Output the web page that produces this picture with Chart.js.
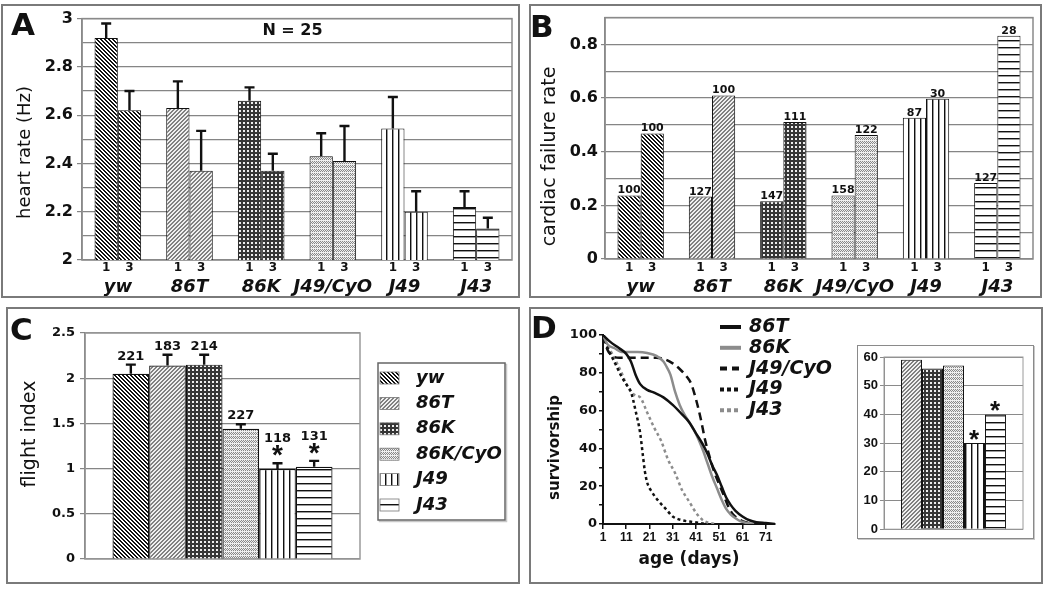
<!DOCTYPE html>
<html><head><meta charset="utf-8">
<script src="https://cdn.jsdelivr.net/npm/chart.js@4.4.1/dist/chart.umd.min.js"></script>
<style>
body{margin:0;background:#fff;width:1050px;height:591px;position:relative;overflow:hidden;font-family:'DejaVu Sans',sans-serif}
.frame{position:absolute;box-sizing:border-box;border:2px solid #7a7a7a}
.inset{position:absolute;box-sizing:border-box;border:1.5px solid #8a8a8a;box-shadow:1px 1px 0 #c8c8c8}
canvas{position:absolute}
.plabel{position:absolute;font:bold 31px 'DejaVu Sans';line-height:1;color:#111}
</style></head>
<body>
<div class="frame" style="left:1px;top:4px;width:519px;height:294px"></div>
<div class="frame" style="left:529px;top:4px;width:513px;height:294px"></div>
<div class="frame" style="left:6px;top:307px;width:514px;height:277px"></div>
<div class="frame" style="left:529px;top:307px;width:514px;height:277px"></div>
<div class="inset" style="left:857px;top:345px;width:177px;height:194px"></div>
<canvas id="cA" width="518" height="293" style="left:2px;top:5px"></canvas>
<canvas id="cB" width="512" height="293" style="left:530px;top:5px"></canvas>
<canvas id="cC" width="513" height="275" style="left:7px;top:308px"></canvas>
<canvas id="cD" width="320" height="275" style="left:530px;top:308px"></canvas>
<canvas id="cE" width="177" height="194" style="left:857px;top:345px"></canvas>
<div class="plabel" style="left:11px;top:9px">A</div>
<div class="plabel" style="left:530px;top:11px">B</div>
<div class="plabel" style="left:10px;top:314px">C</div>
<div class="plabel" style="left:531px;top:312px">D</div>
<script>
// ---------- data ----------
const genotypes = ['yw', '86T', '86K', 'J49/CyO', 'J49', 'J43'];
const timepoints = ['1', '3'];
// A: heart rate (Hz)
const hrDay1 = [2.92, 2.63, 2.66, 2.43, 2.545, 2.22];
const hrDay1Err = [0.06, 0.11, 0.055, 0.095, 0.13, 0.065];
const hrDay3 = [2.62, 2.37, 2.37, 2.41, 2.20, 2.13];
const hrDay3Err = [0.08, 0.165, 0.07, 0.145, 0.085, 0.045];
const hrTickLabels = ['2', '2.2', '2.4', '2.6', '2.8', '3'];
// B: cardiac failure rate
const cfDay1 = [0.237, 0.233, 0.215, 0.237, 0.527, 0.283];
const cfDay3 = [0.468, 0.61, 0.511, 0.462, 0.597, 0.832];
const cfNDay1 = [100, 127, 147, 158, 87, 127];
const cfNDay3 = [100, 100, 111, 122, 30, 28];
const cfTickLabels = ['0', '0.2', '0.4', '0.6', '0.8'];
// C: flight index
const flightGenotypes = ['yw', '86T', '86K', '86K/CyO', 'J49', 'J43'];
const flight = [2.05, 2.14, 2.15, 1.44, 0.995, 1.02];
const flightErr = [0.10, 0.12, 0.11, 0.05, 0.065, 0.065];
const flightN = [221, 183, 214, 227, 118, 131];
const flightSig = [false, false, false, false, true, true];
const flightTickLabels = ['0', '0.5', '1', '1.5', '2', '2.5'];
// D: survivorship
const survLabels = ['86T', '86K', 'J49/CyO', 'J49', 'J43'];
const surv86T_days = [1, 4, 8, 11, 13, 15, 17, 20, 23, 27, 31, 35, 38, 41, 44, 46, 48, 50, 52, 54, 56, 58, 61, 64, 67, 71, 75];
const surv86T_pct  = [100, 96.5, 93, 90, 86, 79, 74, 71, 69.5, 67, 63, 58, 54, 48, 42, 37, 31, 26, 20, 14, 10, 7, 4, 2, 1, 0.5, 0];
const surv86K_days = [1, 3, 6, 9, 12, 16, 20, 24, 27, 28, 30, 32, 34, 36, 38, 40, 42, 44, 46, 48, 50, 52, 54, 56, 58, 60, 63, 66];
const surv86K_pct  = [100, 95, 93, 91, 91, 91, 90.5, 89, 86, 84, 79, 70, 63, 58, 54, 50, 45, 39, 32, 25, 19, 13, 8, 5, 3, 1.5, 0.5, 0];
const survJ49CyO_days = [1, 3, 5, 8, 12, 16, 20, 24, 28, 31, 34, 37, 39, 41, 43, 45, 47, 49, 51, 53, 55, 57, 59, 61, 64, 67];
const survJ49CyO_pct  = [100, 92, 89, 88, 88, 88, 88, 88, 87, 85, 82, 78, 74, 66, 56, 44, 35, 27, 21, 15, 9, 5, 3, 1.5, 0.5, 0];
const survJ49_days = [1, 3, 5, 7, 9, 11, 13, 15, 17, 18, 19, 20, 22, 25, 28, 31, 35, 40, 45];
const survJ49_pct  = [100, 93, 88, 83, 78, 74, 70, 60, 48, 38, 28, 22, 17, 12, 8, 4, 2, 1, 0];
const survJ43_days = [1, 3, 5, 7, 9, 11, 13, 15, 17, 20, 23, 26, 29, 32, 35, 38, 41, 44, 47, 50];
const survJ43_pct  = [100, 94, 90, 85, 80, 74, 70, 68, 67, 59, 51, 44, 34, 27, 18, 12, 6, 2, 0.5, 0];
const dayTicks = [1, 11, 21, 31, 41, 51, 61, 71];
const survTickLabels = ['0', '20', '40', '60', '80', '100'];
// D inset: mean lifespan
const lifespanGenotypes = ['86T', '86K', 'J49/CyO', 'J49', 'J43'];
const lifespan = [59, 56, 57, 30, 40];
const lifespanSig = [false, false, false, true, true];

// ---------- patterns ----------
function makePattern(w, h, bg, fg, pixels) {
  const c = document.createElement('canvas'); c.width = w; c.height = h;
  const x = c.getContext('2d'); x.fillStyle = bg; x.fillRect(0, 0, w, h);
  pixels.forEach(p => { x.fillStyle = p[4] || fg; x.fillRect(p[0], p[1], p[2] || 1, p[3] || 1); });
  return x.createPattern(c, 'repeat');
}
const pat = {
  yw: makePattern(4, 4, '#ffffff', '#111111', [[0,0,2,1],[1,1,2,1],[2,2,2,1],[3,3,1,1],[0,3,1,1]]),
  t86: makePattern(4, 4, '#f0f0f0', '#808080', [[3,0],[0,0],[2,1],[3,1],[1,2],[2,2],[0,3],[1,3]]),
  k86: makePattern(4, 4, '#363636', '#eeeeee', [[1,1,2,2]]),
  cyo: makePattern(4, 4, '#eeeeee', '#888888', [[0,0],[1,1],[2,0],[3,1],[0,2],[2,2]]),
  j49: makePattern(6, 2, '#ffffff', '#111111', [[0,0,1,2],[1,0,1,2,'#9a9a9a']]),
  j43: makePattern(2, 7, '#ffffff', '#111111', [[0,0,2,1],[0,1,2,1,'#9a9a9a']])
};
const genoPatterns = [pat.yw, pat.t86, pat.k86, pat.cyo, pat.j49, pat.j43];
const insetPatterns = [pat.t86, pat.k86, pat.cyo, pat.j49, pat.j43];

// ---------- plugins ----------
const areaBorder = { id: 'areaBorder', beforeDatasetsDraw(chart, a, o) {
  if (!o || !o.color) return;
  const { ctx, chartArea: { left, top, width, height } } = chart;
  ctx.save(); ctx.strokeStyle = o.color; ctx.lineWidth = o.width || 1;
  ctx.strokeRect(left, top, width, height); ctx.restore();
} };
const errorBars = { id: 'errorBars', afterDatasetsDraw(chart, a, o) {
  const { ctx } = chart; const ys = chart.scales.y;
  chart.data.datasets.forEach((ds, di) => {
    if (!ds.errors) return;
    chart.getDatasetMeta(di).data.forEach((bar, i) => {
      const yt = ys.getPixelForValue(ds.data[i] + ds.errors[i]);
      ctx.save(); ctx.strokeStyle = '#111'; ctx.lineWidth = o.width || 2;
      ctx.beginPath(); ctx.moveTo(bar.x, bar.y); ctx.lineTo(bar.x, yt);
      ctx.moveTo(bar.x - o.cap / 2, yt); ctx.lineTo(bar.x + o.cap / 2, yt); ctx.stroke(); ctx.restore();
    });
  });
} };
const barLabels = { id: 'barLabels', afterDatasetsDraw(chart, a, o) {
  const { ctx } = chart; const ys = chart.scales.y;
  chart.data.datasets.forEach((ds, di) => {
    if (!ds.counts && !ds.stars) return;
    chart.getDatasetMeta(di).data.forEach((bar, i) => {
      let cursor = bar.y;
      if (ds.errors) cursor = Math.min(cursor, ys.getPixelForValue(ds.data[i] + ds.errors[i]));
      let gap = o.gap;
      ctx.save(); ctx.fillStyle = '#111';
      if (ds.stars && ds.stars[i]) {
        ctx.font = o.starFont; ctx.textAlign = 'left'; ctx.textBaseline = 'alphabetic';
        const m = ctx.measureText('*');
        const bottom = cursor - o.starGap;
        const base = bottom - m.actualBoundingBoxDescent;
        const x = bar.x - (m.actualBoundingBoxRight - m.actualBoundingBoxLeft) / 2;
        ctx.fillText('*', x, base);
        cursor = base - m.actualBoundingBoxAscent; gap = o.afterStar;
      }
      if (ds.counts) {
        ctx.font = o.font; ctx.textAlign = 'center'; ctx.textBaseline = 'alphabetic';
        ctx.fillText(String(ds.counts[i]), bar.x, cursor - gap);
      }
      ctx.restore();
    });
  });
} };
const subLabels = { id: 'subLabels', afterDraw(chart, a, o) {
  if (!o || !o.font) return;
  const { ctx, chartArea } = chart;
  ctx.save(); ctx.font = o.font; ctx.fillStyle = '#111'; ctx.textAlign = 'center'; ctx.textBaseline = 'middle';
  chart.data.datasets.forEach((ds, di) => {
    chart.getDatasetMeta(di).data.forEach(bar => ctx.fillText(ds.label, bar.x, chartArea.bottom + o.offset));
  });
  ctx.restore();
} };
const sideTitle = { id: 'sideTitle', afterDraw(chart, a, o) {
  if (!o || !o.text) return;
  const { ctx } = chart;
  ctx.save(); ctx.translate(o.x, o.y); ctx.rotate(-Math.PI / 2);
  ctx.font = o.font; ctx.fillStyle = '#111'; ctx.textAlign = 'center'; ctx.textBaseline = 'middle';
  ctx.fillText(o.text, 0, 0); ctx.restore();
} };
const note = { id: 'note', afterDraw(chart, a, o) {
  if (!o || !o.text) return;
  const { ctx } = chart;
  ctx.save(); ctx.font = o.font; ctx.fillStyle = '#111'; ctx.textAlign = 'center'; ctx.textBaseline = 'middle';
  ctx.fillText(o.text, o.x, o.y); ctx.restore();
} };
const patternLegend = { id: 'patternLegend', afterDraw(chart, a, o) {
  const { ctx } = chart;
  ctx.save();
  ctx.strokeStyle = '#c8c8c8'; ctx.lineWidth = 1.5;
  ctx.strokeRect(o.left + 1.5, o.top + 1.5, o.width, o.height);
  ctx.fillStyle = '#fff'; ctx.fillRect(o.left, o.top, o.width, o.height);
  ctx.strokeStyle = '#666'; ctx.strokeRect(o.left, o.top, o.width, o.height);
  chart.data.datasets.forEach((ds, i) => {
    const cy = o.y0 + i * o.dy;
    ctx.fillStyle = ds.backgroundColor; ctx.fillRect(o.sx, cy - o.sh / 2, o.sw, o.sh);
    ctx.strokeStyle = '#777'; ctx.lineWidth = 0.8; ctx.strokeRect(o.sx, cy - o.sh / 2, o.sw, o.sh);
    ctx.fillStyle = '#111'; ctx.font = o.font; ctx.textAlign = 'left'; ctx.textBaseline = 'middle';
    ctx.fillText(ds.label, o.tx, cy);
  });
  ctx.restore();
} };
const lineLegend = { id: 'lineLegend', afterDraw(chart, a, o) {
  const { ctx } = chart;
  ctx.save();
  chart.data.datasets.forEach((ds, i) => {
    const cy = o.y0 + i * o.dy;
    ctx.strokeStyle = ds.borderColor; ctx.lineWidth = o.lineWidth; ctx.lineCap = 'butt';
    ctx.setLineDash(ds.legendDash || []);
    ctx.beginPath(); ctx.moveTo(o.x0, cy); ctx.lineTo(o.x1, cy); ctx.stroke();
    ctx.setLineDash([]);
    ctx.fillStyle = '#111'; ctx.font = o.font; ctx.textAlign = 'left'; ctx.textBaseline = 'middle';
    ctx.fillText(ds.label, o.tx, cy);
  });
  ctx.restore();
} };

Chart.defaults.font.family = "'DejaVu Sans', sans-serif";
Chart.defaults.color = '#111';
Chart.defaults.animation = false;
Chart.defaults.plugins.legend.display = false;
Chart.defaults.plugins.tooltip.enabled = false;

const pickLabel = (v, list) => { const s = String(Math.round(v * 10) / 10); return list.includes(s) ? s : ''; };
const tickCol = (c, col) => (c.tick && c.tick.label !== '' ? col : 'rgba(0,0,0,0)');

// ---------- A ----------
new Chart(document.getElementById('cA'), {
  type: 'bar',
  data: { labels: genotypes, datasets: [
    { label: timepoints[0], data: hrDay1, errors: hrDay1Err, backgroundColor: genoPatterns, borderColor: '#111', borderWidth: 1 },
    { label: timepoints[1], data: hrDay3, errors: hrDay3Err, backgroundColor: genoPatterns, borderColor: '#111', borderWidth: 1 }
  ] },
  options: {
    responsive: false, devicePixelRatio: 1,
    layout: { padding: { top: 12, right: 8, left: 0, bottom: 0 } },
    datasets: { bar: { categoryPercentage: 0.65, barPercentage: 1 } },
    scales: {
      x: { grid: { display: false, drawTicks: false }, border: { display: false },
           ticks: { font: { size: 18, weight: 'bold', style: 'italic' }, padding: 17, color: '#111', maxRotation: 0, minRotation: 0, autoSkip: false },
           afterFit: s => { s.height = 38; } },
      y: { min: 2, max: 3,
           ticks: { stepSize: 0.1, autoSkip: false, font: { size: 16, weight: 'bold' }, padding: 4, color: '#111',
                    callback: v => pickLabel(v, hrTickLabels) },
           grid: { color: '#858585', lineWidth: 1.2, tickLength: 5, tickColor: c => tickCol(c, '#858585') },
           border: { color: '#858585', width: 1.5 },
           afterFit: s => { s.width = 80; } }
    },
    plugins: {
      areaBorder: { color: '#8a8a8a', width: 1.5 },
      errorBars: { width: 2.4, cap: 10 },
      subLabels: { font: "bold 12px 'DejaVu Sans'", offset: 7.5 },
      sideTitle: { text: 'heart rate (Hz)', x: 23.5, y: 147.5, font: "18px 'DejaVu Sans'" },
      note: { text: 'N = 25', x: 290.5, y: 26, font: "bold 16px 'DejaVu Sans'" }
    }
  },
  plugins: [areaBorder, errorBars, subLabels, sideTitle, note]
});

// ---------- B ----------
new Chart(document.getElementById('cB'), {
  type: 'bar',
  data: { labels: genotypes, datasets: [
    { label: timepoints[0], data: cfDay1, counts: cfNDay1, backgroundColor: genoPatterns, borderColor: '#111', borderWidth: 1 },
    { label: timepoints[1], data: cfDay3, counts: cfNDay3, backgroundColor: genoPatterns, borderColor: '#111', borderWidth: 1 }
  ] },
  options: {
    responsive: false, devicePixelRatio: 1,
    layout: { padding: { top: 11, right: 9, left: 0, bottom: 0 } },
    datasets: { bar: { categoryPercentage: 0.65, barPercentage: 1 } },
    scales: {
      x: { grid: { display: false, drawTicks: false }, border: { display: false },
           ticks: { font: { size: 18, weight: 'bold', style: 'italic' }, padding: 18, color: '#111', maxRotation: 0, minRotation: 0, autoSkip: false },
           afterFit: s => { s.height = 39; } },
      y: { min: 0, max: 0.9,
           ticks: { stepSize: 0.1, autoSkip: false, font: { size: 16, weight: 'bold' }, padding: 3, color: '#111',
                    callback: v => pickLabel(v, cfTickLabels) },
           grid: { color: '#858585', lineWidth: 1.2, tickLength: 4, tickColor: c => tickCol(c, '#858585') },
           border: { color: '#858585', width: 1.5 },
           afterFit: s => { s.width = 75; } }
    },
    plugins: {
      areaBorder: { color: '#8a8a8a', width: 1.5 },
      barLabels: { font: "bold 11px 'DejaVu Sans'", gap: 2 },
      subLabels: { font: "bold 12px 'DejaVu Sans'", offset: 8.5 },
      sideTitle: { text: 'cardiac failure rate', x: 20.5, y: 151.5, font: "19px 'DejaVu Sans'" }
    }
  },
  plugins: [areaBorder, barLabels, subLabels, sideTitle]
});

// ---------- C ----------
new Chart(document.getElementById('cC'), {
  type: 'bar',
  data: { labels: [''], datasets: flightGenotypes.map((g, i) => ({
    label: g, data: [flight[i]], errors: [flightErr[i]], counts: [flightN[i]], stars: [flightSig[i]],
    backgroundColor: genoPatterns[i], borderColor: '#111', borderWidth: 1.2
  })) },
  options: {
    responsive: false, devicePixelRatio: 1,
    layout: { padding: { top: 25, right: 160, left: 0, bottom: 24 } },
    datasets: { bar: { categoryPercentage: 0.8, barPercentage: 1 } },
    scales: {
      x: { display: false },
      y: { min: 0, max: 2.5,
           ticks: { stepSize: 0.5, font: { size: 13, weight: 'bold' }, padding: 5, color: '#111',
                    callback: v => pickLabel(v, flightTickLabels) },
           grid: { color: '#858585', lineWidth: 1.2, tickLength: 5 },
           border: { color: '#666', width: 1.5 },
           afterFit: s => { s.width = 78; } }
    },
    plugins: {
      areaBorder: { color: '#9a9a9a', width: 1.5 },
      errorBars: { width: 2.4, cap: 10 },
      barLabels: { font: "bold 13px 'DejaVu Sans'", gap: 5, starGap: 7, afterStar: 3, starFont: "bold 28px 'Liberation Sans'" },
      patternLegend: { left: 371, top: 55, width: 127, height: 157, sx: 373, sw: 19, sh: 12, tx: 409, y0: 70, dy: 25.4,
                       font: "italic bold 18px 'DejaVu Sans'" },
      sideTitle: { text: 'flight index', x: 23, y: 126, font: "19px 'DejaVu Sans'" }
    }
  },
  plugins: [areaBorder, errorBars, barLabels, patternLegend, sideTitle]
});

// ---------- D survival ----------
const toXY = (d, p) => d.map((x, i) => ({ x: x, y: p[i] }));
new Chart(document.getElementById('cD'), {
  type: 'line',
  data: { datasets: [
    { label: survLabels[0], data: toXY(surv86T_days, surv86T_pct), borderColor: '#111', borderWidth: 2.5 },
    { label: survLabels[1], data: toXY(surv86K_days, surv86K_pct), borderColor: '#8c8c8c', borderWidth: 2.5 },
    { label: survLabels[2], data: toXY(survJ49CyO_days, survJ49CyO_pct), borderColor: '#111', borderWidth: 2.5, borderDash: [8, 5], legendDash: [7, 5] },
    { label: survLabels[3], data: toXY(survJ49_days, survJ49_pct), borderColor: '#111', borderWidth: 2.5, borderDash: [3, 3], legendDash: [4, 3] },
    { label: survLabels[4], data: toXY(survJ43_days, survJ43_pct), borderColor: '#8c8c8c', borderWidth: 2.5, borderDash: [3, 3], legendDash: [4, 3] }
  ] },
  options: {
    responsive: false, devicePixelRatio: 1,
    layout: { padding: { top: 27, right: 75, left: 0, bottom: 0 } },
    elements: { point: { radius: 0 }, line: { cubicInterpolationMode: 'monotone', fill: false } },
    scales: {
      x: { type: 'linear', min: 1, max: 75,
           afterBuildTicks: s => { s.ticks = dayTicks.map(v => ({ value: v })); },
           ticks: { font: { family: "'Liberation Sans'", size: 12, weight: 'bold' }, padding: 1, autoSkip: false, maxRotation: 0, color: '#111' },
           grid: { drawOnChartArea: false, tickLength: 5, color: '#111', lineWidth: 1.5 },
           border: { color: '#111', width: 2 },
           title: { display: true, text: 'age (days)', font: { size: 17, weight: 'bold' }, padding: { top: 0, bottom: 13 }, color: '#111' },
           afterFit: s => { s.height = 59; } },
      y: { min: 0, max: 100,
           ticks: { stepSize: 10, autoSkip: false, font: { size: 13, weight: 'bold' }, padding: 2, color: '#111',
                    callback: v => (survTickLabels.includes(String(v)) ? String(v) : '') },
           grid: { drawOnChartArea: false, tickLength: 4, color: '#111', lineWidth: 1.5 },
           border: { color: '#111', width: 2 },
           afterFit: s => { s.width = 73; } }
    },
    plugins: {
      lineLegend: { x0: 190, x1: 211, tx: 219, y0: 19, dy: 20.8, lineWidth: 4, font: "italic bold 19px 'DejaVu Sans'" },
      sideTitle: { text: 'survivorship', x: 25, y: 139.5, font: "bold 15px 'DejaVu Sans'" }
    }
  },
  plugins: [lineLegend, sideTitle]
});

// ---------- D inset ----------
new Chart(document.getElementById('cE'), {
  type: 'bar',
  data: { labels: [''], datasets: lifespanGenotypes.map((g, i) => ({
    label: g, data: [lifespan[i]], stars: [lifespanSig[i]],
    backgroundColor: insetPatterns[i], borderColor: '#111', borderWidth: 1
  })) },
  options: {
    responsive: false, devicePixelRatio: 1,
    layout: { padding: { top: 12, right: 11, left: 0, bottom: 9 } },
    datasets: { bar: { categoryPercentage: 0.755, barPercentage: 1 } },
    scales: {
      x: { display: false },
      y: { min: 0, max: 60,
           ticks: { stepSize: 10, font: { family: "'Liberation Sans'", size: 13, weight: 'bold' }, padding: 2, color: '#111' },
           grid: { color: '#8a8a8a', lineWidth: 1, tickLength: 4 },
           border: { color: '#8a8a8a', width: 1 },
           afterFit: s => { s.width = 27; } }
    },
    plugins: {
      areaBorder: { color: '#9a9a9a', width: 1 },
      barLabels: { font: "bold 12px 'DejaVu Sans'", gap: 3, starGap: 3, afterStar: 3, starFont: "bold 26px 'Liberation Sans'" }
    }
  },
  plugins: [areaBorder, barLabels]
});
</script>
</body></html>
